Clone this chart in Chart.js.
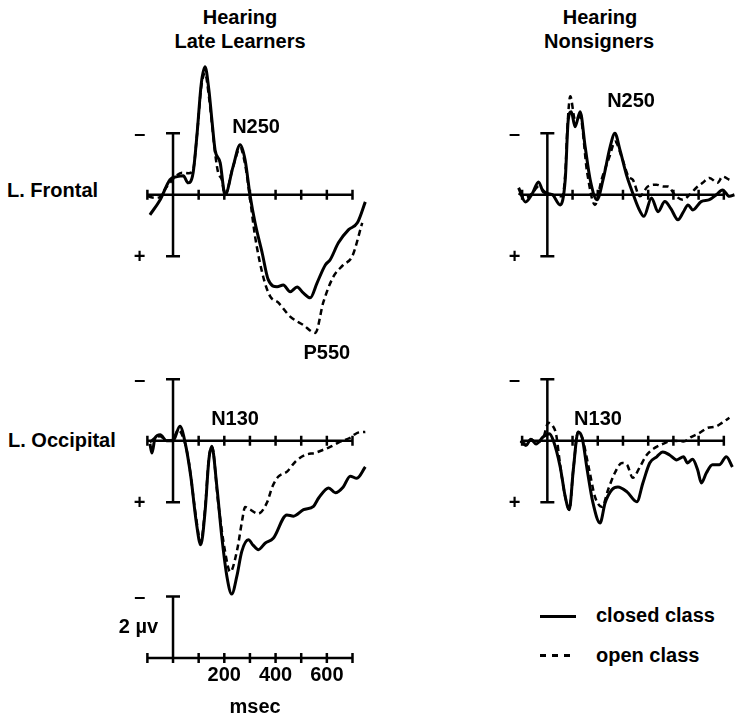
<!DOCTYPE html>
<html>
<head>
<meta charset="utf-8">
<script src="https://cdn.jsdelivr.net/npm/chart.js@4.4.0/dist/chart.umd.min.js"></script>
<style>
    html, body { margin: 0; padding: 0; background: #fff; }
    body {
        width: 737px; height: 715px; position: relative; overflow: hidden;
        font-family: "Liberation Sans", Arial, Helvetica, sans-serif;
        font-weight: bold; font-size: 20px; color: #000;
    }
    canvas { position: absolute; }
    .lbl { position: absolute; white-space: nowrap; line-height: 1; transform: translate(-50%, -50%); }
    .row { position: absolute; white-space: nowrap; line-height: 1; transform: translateY(-50%); }
    .key-solid { position: absolute; height: 3px; background: #000; }
    .key-dash  { position: absolute; height: 3px;
                 background: repeating-linear-gradient(to right, #000 0 6px, transparent 6px 12px); }
</style>
</head>
<body>
<div class="lbl" style="left:240px;top:17px">Hearing</div>
<div class="lbl" style="left:240px;top:41px">Late Learners</div>
<div class="lbl" style="left:600px;top:17px">Hearing</div>
<div class="lbl" style="left:599px;top:41px">Nonsigners</div>
<div class="row" style="left:7px;top:190px">L. Frontal</div>
<div class="row" style="left:8px;top:440px">L. Occipital</div>

<div class="key-solid" style="left:540px;top:615px;width:36px"></div>
<div class="row" style="left:596px;top:615px">closed class</div>
<div class="key-dash" style="left:540px;top:654px;width:36px"></div>
<div class="row" style="left:596px;top:655px">open class</div>

<script>
(function () {
    'use strict';

    // ── AXIS TICKS ─────────────────────────────────────────────────────────
    const TIME_TICKS  = [-100, 0, 100, 200, 300, 400, 500, 600, 700];
    const TICK_LABELS = [200, 400, 600];

    // ── L. FRONTAL / LATE LEARNERS ─────────────────────────────────────────
    const FL_CLOSED_T = [-90, -50, -12, 16, 40, 59, 78, 94, 110, 125, 140, 152, 164, 184, 203, 234, 262, 281, 301, 320, 348, 371, 406, 430, 457, 484, 508, 535, 562, 594, 613, 645, 684, 719, 750];
    const FL_CLOSED_V = [0.65, 0.16, -0.49, -0.59, -0.62, -0.39, -0.7, -2.0, -3.6, -4.16, -3.4, -2.4, -1.46, -1.04, 0, -0.91, -1.63, -1.14, 0.05, 0.91, 1.9, 2.75, 2.99, 2.93, 3.15, 3.0, 3.19, 3.35, 2.86, 2.28, 2.11, 1.56, 1.14, 0.91, 0.23];
    const FL_OPEN_T   = [-98, -70, -51, -30, -12, 10, 35, 60, 78, 94, 110, 125, 140, 152, 165, 176, 190, 203, 234, 262, 281, 301, 320, 352, 379, 410, 457, 508, 555, 586, 625, 664, 699, 738];
    const FL_OPEN_V   = [0.05, 0.1, 0.07, -0.2, -0.39, -0.6, -0.72, -0.7, -0.8, -2.0, -3.5, -3.95, -3.2, -2.3, -1.3, -0.72, -0.5, 0, -0.91, -1.52, -1.0, 0.16, 1.35, 2.67, 3.3, 3.5, 3.96, 4.23, 4.49, 3.5, 2.67, 2.28, 2.0, 0.91];

    // ── L. FRONTAL / NONSIGNERS ────────────────────────────────────────────
    const FN_CLOSED_T = [-114, -87, -59, -35, -16, 20, 51, 71, 83, 95, 110, 130, 150, 170, 197, 221, 249, 268, 288, 316, 339, 360, 383, 413, 439, 466, 490, 518, 540, 558, 577, 610, 643, 670, 695, 722, 742];
    const FN_CLOSED_V = [-0.23, 0.23, -0.05, -0.42, -0.1, 0, 0.33, -0.49, -2.44, -2.7, -2.21, -2.7, -1.56, -0.49, 0.16, -0.49, -1.56, -2.0, -1.46, -0.59, -0.05, 0.4, 0.7, 0.1, 0.55, 0.22, 0.45, 0.81, 0.55, 0.33, 0.49, 0.22, 0.16, 0, -0.16, 0.05, 0];
    const FN_OPEN_T   = [-114, -85, -60, -35, -10, 20, 59, 72, 79, 91, 110, 130, 158, 189, 215, 249, 268, 296, 322, 339, 367, 398, 433, 460, 479, 505, 537, 564, 591, 616, 643, 675, 695, 722];
    const FN_OPEN_V   = [-0.05, 0.1, -0.05, -0.27, -0.1, 0, 0.05, -0.8, -2.11, -3.2, -2.44, -2.54, -0.72, 0.33, -0.49, -1.3, -1.73, -1.2, -0.59, -0.49, 0.05, -0.27, -0.33, -0.27, -0.27, 0, 0.16, 0, -0.23, -0.39, -0.55, -0.39, -0.59, -0.49];

    // ── L. OCCIPITAL / LATE LEARNERS ───────────────────────────────────────
    const OL_CLOSED_T = [-90, -82, -70, -50, -25, 0, 27, 47, 70, 90, 108, 125, 140, 151, 171, 190, 210, 229, 249, 268, 294, 313, 333, 359, 391, 444, 470, 509, 548, 568, 607, 633, 664, 691, 717, 750];
    const OL_CLOSED_V = [0.1, 0.4, -0.1, -0.2, 0, 0, -0.47, 0.05, 1.2, 2.6, 3.38, 2.3, 0.6, 0.18, 1.49, 3.1, 4.4, 4.98, 4.4, 3.6, 3.22, 3.4, 3.54, 3.33, 3.17, 2.41, 2.45, 2.24, 2.13, 1.86, 1.53, 1.69, 1.5, 1.15, 1.22, 0.85];
    const OL_OPEN_T   = [-90, -70, -50, -25, 0, 20, 40, 60, 90, 108, 125, 140, 152, 176, 203, 223, 250, 270, 281, 301, 332, 367, 387, 410, 445, 477, 516, 555, 586, 613, 652, 691, 719, 750];
    const OL_OPEN_V   = [0.05, -0.1, -0.15, 0, -0.05, -0.35, -0.1, 0.6, 2.5, 3.3, 2.2, 0.55, 0.2, 2.0, 3.6, 4.26, 3.55, 2.57, 2.15, 2.24, 2.37, 2.0, 1.5, 1.17, 1.0, 0.68, 0.46, 0.39, 0.29, 0.2, 0.03, -0.1, -0.26, -0.29];

    // ── L. OCCIPITAL / NONSIGNERS ──────────────────────────────────────────
    const ON_CLOSED_T = [-106, -85, -65, -45, -16, 8, 24, 51, 71, 87, 103, 122, 138, 158, 181, 209, 229, 256, 280, 316, 355, 379, 406, 434, 458, 485, 513, 540, 556, 576, 596, 611, 631, 655, 682, 710, 734];
    const ON_CLOSED_V = [0, 0.15, -0.05, 0.1, -0.13, -0.23, 0, 0.85, 1.82, 2.24, 0.94, -0.29, -0.1, 0.94, 2.02, 2.67, 2.02, 1.59, 1.5, 1.66, 1.98, 1.37, 0.72, 0.52, 0.36, 0.46, 0.62, 0.52, 0.72, 0.6, 0.94, 1.37, 1.04, 0.78, 0.78, 0.52, 0.85];
    const ON_OPEN_T   = [-106, -85, -65, -45, -16, 4, 20, 35, 51, 71, 87, 103, 122, 138, 166, 189, 217, 241, 268, 296, 316, 339, 367, 394, 426, 458, 497, 540, 572, 604, 635, 667, 694, 722];
    const ON_OPEN_V   = [0, 0.1, -0.05, 0.05, -0.1, -0.59, -0.5, -0.2, 0.8, 1.82, 2.24, 0.94, -0.29, -0.1, 0.94, 1.82, 2.15, 1.59, 1.04, 0.72, 0.78, 1.2, 0.85, 0.46, 0.23, 0.1, 0, 0.02, -0.13, -0.26, -0.42, -0.46, -0.59, -0.75];

    // ── AXES PLUGIN (drawn through the chart's own scales) ─────────────────
    const erpAxes = {
        id: 'erpAxes',
        beforeDatasetsDraw(chart, args, opts) {
            const { ctx, scales: { x, y } } = chart;
            const x0 = x.getPixelForValue(0);
            const y0 = y.getPixelForValue(0);
            ctx.save();
            ctx.strokeStyle = '#000';
            ctx.lineWidth = 2.5;
            ctx.beginPath();
            ctx.moveTo(x0, y.getPixelForValue(opts.bar[0]));
            ctx.lineTo(x0, y.getPixelForValue(opts.bar[1]));
            opts.caps.forEach(v => {
                const py = y.getPixelForValue(v);
                ctx.moveTo(x0 - 7, py);
                ctx.lineTo(x0 + 7, py);
            });
            ctx.moveTo(x.getPixelForValue(TIME_TICKS[0]), y0);
            ctx.lineTo(x.getPixelForValue(TIME_TICKS[TIME_TICKS.length - 1]), y0);
            TIME_TICKS.forEach(t => {
                const px = x.getPixelForValue(t);
                ctx.moveTo(px, y0 - 5);
                ctx.lineTo(px, y0 + 5);
            });
            ctx.stroke();
            ctx.restore();
        }
    };

    function series(T, V, dashed) {
        return {
            data: T.map((t, i) => ({ x: t, y: V[i] })),
            borderColor: '#000',
            borderWidth: dashed ? 2.5 : 3,
            borderDash: dashed ? [6, 4] : [],
            pointRadius: 0,
            cubicInterpolationMode: 'monotone',
            fill: false
        };
    }

    function addLabel(chart, box, text, t, v) {
        const el = document.createElement('div');
        el.className = 'lbl';
        el.textContent = text;
        el.style.left = (box.left + chart.scales.x.getPixelForValue(t)) + 'px';
        el.style.top  = (box.top  + chart.scales.y.getPixelForValue(v)) + 'px';
        document.body.appendChild(el);
    }

    function makePanel(box, yRange, datasets, axes) {
        const c = document.createElement('canvas');
        c.width = box.width;
        c.height = box.height;
        c.style.left = box.left + 'px';
        c.style.top = box.top + 'px';
        document.body.appendChild(c);
        return new Chart(c, {
            type: 'line',
            data: { datasets },
            options: {
                responsive: false,
                animation: false,
                layout: { padding: 0 },
                plugins: { legend: { display: false }, tooltip: { enabled: false }, erpAxes: axes },
                scales: {
                    x: { type: 'linear', min: -160, max: 780, display: false },
                    y: { min: yRange[0], max: yRange[1], reverse: true, display: false }
                }
            },
            plugins: [erpAxes]
        });
    }

    const BAR_AXES   = { bar: [-2, 2], caps: [-2, 2] };
    const SCALE_AXES = { bar: [-2, 0], caps: [-2] };
    const Y_PANEL = [-5, 5.5];
    const Y_SCALE = [-2.5, 1.5];

    const boxes = {
        fl: { left: 132, top: 41,  width: 241, height: 323 },
        fn: { left: 507, top: 41,  width: 237, height: 323 },
        ol: { left: 132, top: 287, width: 241, height: 323 },
        on: { left: 507, top: 287, width: 237, height: 323 },
        sc: { left: 132, top: 581, width: 241, height: 123 }
    };

    const fl = makePanel(boxes.fl, Y_PANEL, [series(FL_OPEN_T, FL_OPEN_V, true), series(FL_CLOSED_T, FL_CLOSED_V, false)], BAR_AXES);
    const fn = makePanel(boxes.fn, Y_PANEL, [series(FN_OPEN_T, FN_OPEN_V, true), series(FN_CLOSED_T, FN_CLOSED_V, false)], BAR_AXES);
    const ol = makePanel(boxes.ol, Y_PANEL, [series(OL_OPEN_T, OL_OPEN_V, true), series(OL_CLOSED_T, OL_CLOSED_V, false)], BAR_AXES);
    const on = makePanel(boxes.on, Y_PANEL, [series(ON_OPEN_T, ON_OPEN_V, true), series(ON_CLOSED_T, ON_CLOSED_V, false)], BAR_AXES);
    const sc = makePanel(boxes.sc, Y_SCALE, [], SCALE_AXES);

    // ── LABELS ─────────────────────────────────────────────────────────────
    [[fl, boxes.fl], [fn, boxes.fn], [ol, boxes.ol], [on, boxes.on]].forEach(([ch, b]) => {
        addLabel(ch, b, '–', -130, -2);
        addLabel(ch, b, '+', -130, 2);
    });
    addLabel(fl, boxes.fl, 'N250', 324, -2.24);
    addLabel(fl, boxes.fl, 'P550', 600, 5.1);
    addLabel(fn, boxes.fn, 'N250', 332, -3.09);
    addLabel(ol, boxes.ol, 'N130', 242, -0.75);
    addLabel(on, boxes.on, 'N130', 201, -0.75);

    addLabel(sc, boxes.sc, '–', -130, -2);
    addLabel(sc, boxes.sc, '2 µv', -135, -1.04);
    TICK_LABELS.forEach(t => addLabel(sc, boxes.sc, String(t), t, 0.52));
    addLabel(sc, boxes.sc, 'msec', 320, 1.56);
})();
</script>
</body>
</html>
